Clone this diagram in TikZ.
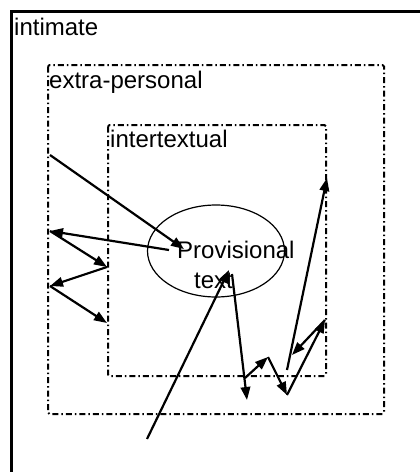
\documentclass[tikz,border=0pt]{standalone}
\usepackage{fontspec}
\setmainfont{Liberation Sans}
\usetikzlibrary{arrows.meta,shapes.geometric}
\begin{document}
\begin{tikzpicture}[x=1pt,y=-1pt,
  lbl/.style={anchor=base west,inner sep=0pt,font=\fontsize{24}{28}\selectfont},
  zone/.style={line width=2pt,dash pattern=on 6pt off 3pt on 1.5pt off 3pt,rounded corners=1.5pt},
  arr/.style={line width=2.2pt,-{Triangle[length=13pt,width=9.5pt]}},
  ln/.style={line width=2.2pt}]
\useasboundingbox (0,0) rectangle (420,472);
% outer zone (only top and left edges visible)
\coordinate (oc) at (11,11);
\coordinate (ob) at (11,473);
\coordinate (or) at (421,11);
\draw[line width=3pt] (ob) -- (oc) -- (or);
% inner zones
\draw[zone] (48,65) rectangle (384,414);
\draw[zone] (108,125) rectangle (326,376);
% labels
\node[lbl] (intimate) at (14,35) {intimate};
\node[lbl] (extra) at (49,88) {extra-personal};
\node[lbl] (inter) at (110,147) {intertextual};
\node[ellipse,draw,line width=1.2pt,minimum width=137pt,minimum height=92pt,inner sep=0pt] (prov) at (216,251) {};
\node[lbl] (provA) at (177,258) {Provisional};
\node[lbl] (provB) at (194,288) {text};
% points
\coordinate (p1) at (50,155);
\coordinate (p2) at (184,249);
\coordinate (p3) at (169,250);
\coordinate (l1) at (50,231);
\coordinate (r1) at (107,267);
\coordinate (l2) at (50,286);
\coordinate (r2) at (107,323);
\coordinate (b0) at (147,439);
\coordinate (t) at (229,270);
\coordinate (t2) at (232,274);
\coordinate (d1) at (247,400);
\coordinate (z0) at (245,378);
\coordinate (z1) at (268,357);
\coordinate (z2) at (287,395);
\coordinate (z3) at (325,320);
\coordinate (z4) at (292,355);
\coordinate (z5) at (287,370);
\coordinate (z6) at (327,178);
% connectors
\draw[arr] (p1) -- (p2);
\draw[arr] (p3) -- (l1);
\draw[arr] (l1) -- (r1);
\draw[arr] (r1) -- (l2);
\draw[arr] (l2) -- (r2);
\draw[arr] (b0) -- (t);
\draw[arr] (t2) -- (d1);
\draw[arr] (z0) -- (z1);
\draw[arr] (z1) -- (z2);
\draw[arr] (z2) -- (z3);
\draw[arr] (z3) -- (z4);
\draw[arr] (z5) -- (z6);
\end{tikzpicture}
\end{document}
